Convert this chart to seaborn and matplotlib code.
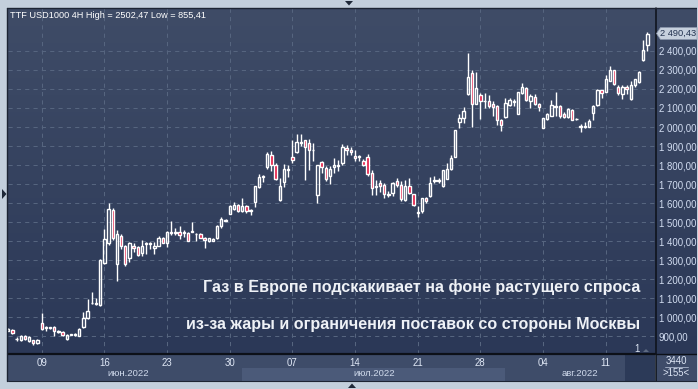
import numpy as np
import pandas as pd
import matplotlib
matplotlib.use("Agg")
import matplotlib.pyplot as plt
import seaborn as sns
from matplotlib.patches import Rectangle, Polygon
from matplotlib.lines import Line2D
from matplotlib.colors import LinearSegmentedColormap

# ---------------- data (TTF, 4H candles) ----------------
opens = [928, 932, 882, 878, 901, 876, 877, 862, 967, 942, 945, 947, 927, 919, 884, 906, 906, 902, 946, 993,
         1072, 1075, 1063, 1282, 1388, 1565, 1279, 1425, 1372, 1309, 1374, 1367, 1337, 1385, 1385, 1365, 1376, 1416, 1391, 1446,
         1441, 1446, 1440, 1440, 1447, 1437, 1438, 1418, 1398, 1402, 1414, 1477, 1507, 1542, 1568, 1590, 1556, 1583, 1556, 1604,
         1684, 1737, 1788, 1855, 1802, 1618, 1709, 1774, 1842, 1867, 1916, 1930, 1916, 1881, 1644, 1816, 1784, 1744, 1788, 1793,
         1811, 1890, 1881, 1848, 1842, 1823, 1842, 1758, 1683, 1705, 1693, 1648, 1653, 1714, 1697, 1618, 1691, 1648, 1553, 1556,
         1627, 1635, 1718, 1714, 1691, 1728, 1781, 1842, 2025, 2048, 2175, 2282, 2123, 2167, 2137, 2139, 2123, 2111, 2039, 2053,
         2116, 2134, 2070, 2177, 2207, 2137, 2160, 2119, 1996, 2042, 2058, 2110, 2111, 2067, 2053, 2089, 2044, 2000, 2002, 2002,
         2076, 2114, 2193, 2186, 2242, 2298, 2212, 2172, 2210, 2146, 2221, 2237, 2351, 2432]
highs = [942, 936, 893, 903, 905, 899, 880, 883, 1021, 955, 950, 952, 930, 925, 908, 913, 915, 942, 1025, 1095,
         1130, 1100, 1305, 1463, 1600, 1572, 1460, 1437, 1380, 1396, 1388, 1372, 1404, 1396, 1397, 1393, 1424, 1420, 1451, 1503,
         1467, 1481, 1460, 1445, 1498, 1444, 1442, 1421, 1418, 1418, 1482, 1524, 1518, 1590, 1603, 1595, 1626, 1590, 1569, 1692,
         1755, 1749, 1868, 1872, 1808, 1732, 1803, 1802, 1933, 1965, 1965, 1934, 1935, 1916, 1802, 1823, 1793, 1793, 1837, 1828,
         1911, 1907, 1895, 1881, 1855, 1830, 1860, 1774, 1723, 1720, 1705, 1662, 1710, 1730, 1715, 1723, 1730, 1650, 1583, 1628,
         1630, 1735, 1740, 1730, 1776, 1812, 1855, 1986, 2070, 2105, 2392, 2300, 2287, 2178, 2180, 2170, 2135, 2116, 2043, 2155,
         2155, 2145, 2186, 2230, 2210, 2172, 2174, 2125, 2046, 2075, 2140, 2184, 2114, 2077, 2100, 2093, 2049, 2014, 2026, 2044,
         2116, 2200, 2195, 2272, 2319, 2298, 2220, 2223, 2223, 2241, 2255, 2297, 2456, 2502]
lows = [925, 912, 876, 875, 878, 867, 855, 858, 933, 928, 935, 902, 915, 902, 877, 904, 900, 898, 944, 990,
        1068, 1064, 1060, 1278, 1380, 1405, 1188, 1358, 1267, 1288, 1340, 1322, 1323, 1332, 1358, 1332, 1372, 1388, 1367, 1432,
        1432, 1410, 1419, 1398, 1446, 1402, 1414, 1365, 1393, 1398, 1410, 1470, 1505, 1540, 1565, 1555, 1553, 1550, 1539, 1580,
        1680, 1713, 1780, 1767, 1720, 1609, 1684, 1737, 1811, 1862, 1898, 1720, 1775, 1820, 1600, 1760, 1718, 1700, 1758, 1767,
        1800, 1855, 1855, 1820, 1820, 1795, 1740, 1640, 1644, 1660, 1625, 1632, 1637, 1683, 1610, 1610, 1645, 1585, 1527, 1550,
        1600, 1632, 1705, 1705, 1686, 1725, 1775, 1840, 1997, 2020, 2170, 1999, 2120, 2041, 2102, 2100, 2060, 2011, 1981, 2046,
        2109, 2110, 2068, 2172, 2137, 2102, 2114, 2086, 1993, 2037, 2056, 2058, 2049, 2046, 2046, 2035, 2035, 1975, 1995, 1998,
        2035, 2109, 2153, 2184, 2240, 2219, 2170, 2149, 2172, 2140, 2212, 2232, 2345, 2400]
closes = [937, 916, 886, 900, 882, 896, 862, 879, 937, 946, 941, 925, 919, 905, 905, 911, 910, 937, 995, 1032,
          1076, 1068, 1300, 1409, 1568, 1414, 1435, 1375, 1279, 1391, 1365, 1326, 1376, 1390, 1390, 1375, 1414, 1391, 1446, 1442,
          1447, 1433, 1447, 1402, 1452, 1435, 1418, 1404, 1414, 1412, 1477, 1514, 1512, 1582, 1590, 1560, 1586, 1556, 1562, 1691,
          1737, 1744, 1858, 1802, 1728, 1691, 1779, 1779, 1828, 1921, 1923, 1893, 1881, 1878, 1802, 1790, 1726, 1779, 1802, 1802,
          1895, 1878, 1867, 1836, 1845, 1802, 1755, 1679, 1688, 1688, 1650, 1644, 1705, 1693, 1621, 1691, 1653, 1591, 1546, 1625,
          1609, 1705, 1720, 1721, 1776, 1781, 1837, 1986, 2048, 2086, 2265, 2123, 2207, 2137, 2135, 2111, 2105, 2037, 2009, 2128,
          2140, 2139, 2186, 2210, 2142, 2163, 2119, 2105, 2046, 2068, 2114, 2107, 2058, 2053, 2093, 2037, 2040, 2006, 2006, 2032,
          2111, 2195, 2181, 2251, 2298, 2225, 2177, 2212, 2198, 2219, 2251, 2290, 2405, 2490]

week_positions = [8, 23, 38, 53, 68, 83, 98, 113, 128, 143]
week_labels = ["09", "16", "23", "30", "07", "14", "21", "28", "04", "11"]
month_labels = ["июн.2022", "июл.2022", "авг.2022"]
price_ticks = list(range(900, 2401, 100))
title_text = "TTF USD1000 4H High = 2502,47 Low = 855,41"
caption_lines = ["Газ в Европе подскакивает на фоне растущего спроса",
                 "из-за жары и ограничения поставок со стороны Москвы"]
last_price_label = "2 490,43"

# ---------------- style ----------------
sns.set_theme(style="dark")
plt.rcParams["font.family"] = ["Liberation Sans", "DejaVu Sans"]

W, H = 698, 389
def fx(x):
    return x / W
def fy(y):
    return 1 - y / H

BORDER = "#c3cfdc"
PANEL = "#3e4c69"
BAND = "#4b5a79"
DARKBOX = "#2c3a58"
RED = "#e3103c"
GRID = "#56657f"

fig = plt.figure(figsize=(W / 100, H / 100), dpi=100)
fig.patch.set_facecolor(BORDER)

# gradient background of the chart + right scale
bg = fig.add_axes([fx(8), fy(354), (698 - 8) / W, (354 - 8) / H], zorder=1)
cmap = LinearSegmentedColormap.from_list("bg", ["#2b3857", "#3f4c67"])
bg.imshow(np.linspace(0, 1, 256).reshape(-1, 1), aspect="auto", cmap=cmap,
          origin="lower", extent=[0, 1, 0, 1])
bg.axis("off")

# main axes
ax = fig.add_axes([fx(8), fy(354), (655 - 8) / W, (354 - 8) / H], zorder=3)
ax.set_facecolor("none")
for s in ax.spines.values():
    s.set_visible(False)

df = pd.DataFrame({"open": opens, "high": highs, "low": lows, "close": closes})
df["x"] = np.arange(len(df))
df["top"] = df[["open", "close"]].max(axis=1)
df["bot"] = df[["open", "close"]].min(axis=1)
df["up"] = df["close"] >= df["open"]

ax.vlines(df["x"], df["top"], df["high"], color="white", lw=1.0, zorder=3)
ax.vlines(df["x"], df["low"], df["bot"], color="white", lw=1.0, zorder=3)
ax.bar(df["x"], np.maximum(df["top"] - df["bot"], 1.5), bottom=df["bot"], width=0.56,
       color=[("none" if u else RED) for u in df["up"]], edgecolor="white",
       linewidth=1.0, zorder=4)

ax.set_xlim(-0.06, 154.8)
ax.set_ylim(805.3, 2626.3)

ax.yaxis.tick_right()
ax.set_yticks(price_ticks)
ax.set_yticklabels([f"{v:,.2f}".replace(",", " ").replace(".", ",") for v in price_ticks])
ax.tick_params(axis="y", length=0, pad=2.8, labelsize=6.9, labelcolor="#d3def2")
ax.set_xticks(week_positions)
ax.set_xticklabels(week_labels)
ax.tick_params(axis="x", length=0, pad=3.0, labelsize=6.9, labelcolor="#e0e8f6")
ax.grid(True, color=GRID, linestyle=(0, (4, 4)), lw=0.75)
ax.set_axisbelow(True)

# ---------------- frame / panels ----------------
def rect(x0, y0, x1, y1, color, z=2):
    fig.add_artist(Rectangle((fx(x0), fy(y1)), (x1 - x0) / W, (y1 - y0) / H,
                             transform=fig.transFigure, facecolor=color,
                             edgecolor="none", zorder=z))

def line(x0, y0, x1, y1, color="#0c1018", lw=1.0, z=5):
    fig.add_artist(Line2D([fx(x0), fx(x1)], [fy(y0), fy(y1)], transform=fig.transFigure,
                          color=color, lw=lw, zorder=z))

rect(8, 354, 655, 381, PANEL)
rect(242, 368, 505, 381, BAND)
rect(625, 355, 655, 381, DARKBOX)
rect(656, 354, 697, 381, PANEL)

line(655.5, 8, 655.5, 381, lw=1.1)
line(8, 354, 655, 354, lw=1.6)
line(7.5, 8, 7.5, 381, color="#1c2433", lw=1.0)
line(7.5, 7.5, 698, 7.5, color="#1c2433", lw=1.0)
line(8, 381, 698, 381, color="#1c2433", lw=0.8)
line(656, 354, 698, 354, lw=1.0)
rect(696.5, 0, 698, 389, BORDER, z=6)

# small arrows on the frame
for pts in ([(2, 189), (2, 199), (6.5, 194)],
            [(345, 1), (353, 1), (349, 5.5)],
            [(348, 388), (356, 388), (352, 383.5)]):
    fig.add_artist(Polygon([(fx(a), fy(b)) for a, b in pts], closed=True,
                           transform=fig.transFigure, facecolor="#1e2838",
                           edgecolor="none", zorder=6))

# month labels
for lbl, xc in zip(month_labels, [128, 374, 580]):
    fig.text(fx(xc), fy(373.5), lbl, ha="center", va="center", fontsize=6.8,
             color="#d0daec", zorder=7)

# bottom-right box
fig.text(fx(676), fy(361.5), "3440", ha="center", va="center", fontsize=6.9,
         color="#dce5f4", zorder=7)
line(665, 366.5, 688, 366.5, color="#aab6cc", lw=0.6, z=7)
fig.text(fx(676), fy(373), ">155<", ha="center", va="center", fontsize=6.9,
         color="#dce5f4", zorder=7)

# "1" marker near the bottom right of the chart
fig.text(fx(637), fy(348.5), "1", ha="center", va="center", fontsize=6.9,
         color="#dce5f4", zorder=7)
fig.add_artist(Polygon([(fx(643), fy(352)), (fx(649), fy(352)), (fx(646), fy(349))],
                       closed=True, transform=fig.transFigure, facecolor="#5d6a82",
                       edgecolor="none", zorder=7))

# last price tag
tag = [(656.5, 33.5), (660.5, 27.5), (697, 27.5), (697, 39.5), (660.5, 39.5)]
fig.add_artist(Polygon([(fx(a), fy(b)) for a, b in tag], closed=True,
                       transform=fig.transFigure, facecolor="#c6d0dd",
                       edgecolor="#8c98ad", lw=0.5, zorder=7))
fig.text(fx(660), fy(33.6), last_price_label, ha="left", va="center", fontsize=6.7,
         color="#23324f", zorder=8)

# title
fig.text(fx(10), fy(18.3), title_text, ha="left", va="baseline", fontsize=6.6,
         color="white", zorder=8)

# caption
fig.text(fx(640), fy(292), caption_lines[0], ha="right", va="baseline", fontsize=11.65,
         fontweight="bold", color="#eef1f6", zorder=8)
fig.text(fx(640), fy(329), caption_lines[1], ha="right", va="baseline", fontsize=11.65,
         fontweight="bold", color="#eef1f6", zorder=8)

fig.savefig("out.png", dpi=100, facecolor=fig.get_facecolor())
